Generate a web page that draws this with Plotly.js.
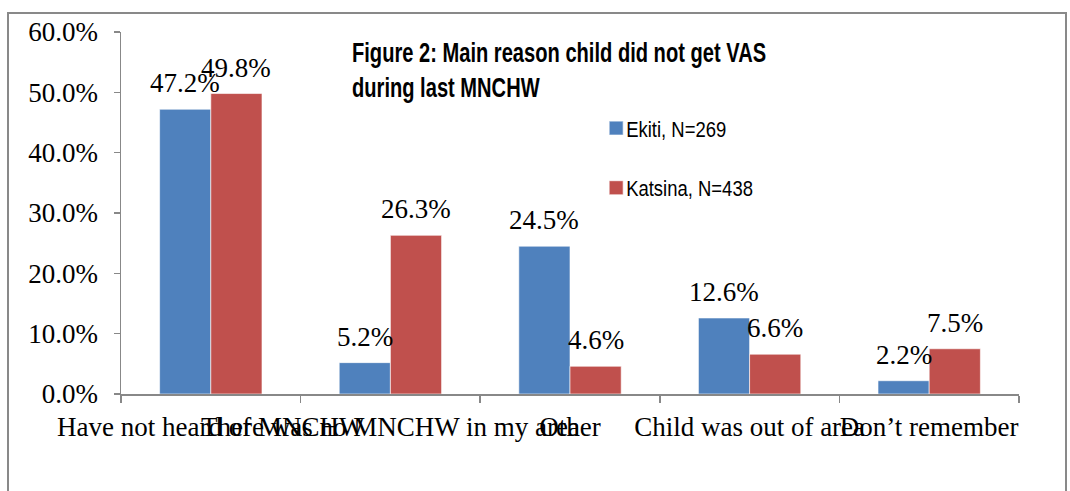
<!DOCTYPE html>
<html>
<head>
<meta charset="utf-8">
<script src="https://cdn.plot.ly/plotly-3.0.1.min.js"></script>
<style>html,body{margin:0;padding:0;background:#fff;}#chart{width:1070px;height:491px;}</style>
</head>
<body>
<div id="chart"></div>
<script>
const categories = ["Have not heard of MNCHW", "There was no MNCHW in my area", "Other", "Child was out of area", "Don\u2019t remember"];
const seriesNames = ["Ekiti, N=269", "Katsina, N=438"];
const ekiti = [47.2, 5.2, 24.5, 12.6, 2.2];
const katsina = [49.8, 26.3, 4.6, 6.6, 7.5];
const yTicks = [0, 10, 20, 30, 40, 50, 60];
const chartTitle = "Figure 2: Main reason child did not get VAS<br>during last MNCHW";

const colors = ["#4F81BD", "#C0504D"];
const serif = "'Liberation Serif', 'Times New Roman', serif";
const sans = "'Liberation Sans Narrow', 'Liberation Sans', Arial, sans-serif";

const series = [ekiti, katsina];
const traces = series.map((vals, i) => ({
  type: "bar",
  name: seriesNames[i],
  x: categories,
  y: vals,
  legendgroup: "g" + i,
  marker: {color: colors[i], line: {color: "rgba(255,255,255,0.6)", width: 1}},
  hoverinfo: "skip"
}));

const annotations = [];
series.forEach((vals, i) => {
  vals.forEach((v, j) => {
    annotations.push({
      x: categories[j], y: v, xref: "x", yref: "y",
      text: v.toFixed(1) + "%",
      showarrow: false, yanchor: "bottom", xanchor: "center",
      xshift: i === 0 ? -25.6 : 25.6, yshift: 9,
      font: {family: serif, size: 27, color: "#000"}
    });
  });
});

const layout = {
  width: 1070, height: 491,
  margin: {l: 121, r: 51, t: 32, b: 97},
  paper_bgcolor: "#fff", plot_bgcolor: "#fff",
  barmode: "group", bargap: 0.43, bargroupgap: 0,
  showlegend: true,
  title: {
    text: chartTitle,
    x: 352 / 1070, xref: "container", xanchor: "left",
    y: 1 - 62 / 491, yref: "container", yanchor: "top",
    font: {family: sans, size: 27, color: "#000", weight: "bold"}
  },
  legend: {
    x: 0.518, y: 0.792, xanchor: "left", yanchor: "top",
    bgcolor: "rgba(0,0,0,0)",
    font: {family: sans, size: 22, color: "#000"},
    tracegroupgap: 28, traceorder: "grouped"
  },
  xaxis: {
    type: "category",
    showline: true, linecolor: "#888", linewidth: 1.5,
    ticks: "outside", tickson: "boundaries", ticklen: 7, tickcolor: "#888", tickwidth: 1.5,
    tickangle: 0, showgrid: false, zeroline: false, ticklabelstandoff: 8,
    tickfont: {family: serif, size: 27, color: "#000"}
  },
  yaxis: {
    range: [0, 60], tickvals: yTicks, ticktext: yTicks.map(t => t.toFixed(1) + "%"),
    showline: true, linecolor: "#888", linewidth: 1.5,
    ticks: "outside", ticklen: 6, tickcolor: "#888", tickwidth: 1.5,
    showgrid: false, zeroline: false, ticklabelstandoff: 10,
    tickfont: {family: serif, size: 27, color: "#000"}
  },
  annotations: annotations,
  shapes: [{
    type: "rect", xref: "paper", yref: "paper",
    x0: (8 - 121) / 898, x1: (1066 - 121) / 898,
    y0: (394 - 500) / 362, y1: (394 - 13) / 362,
    line: {color: "#898989", width: 2}, fillcolor: "rgba(0,0,0,0)", layer: "below"
  }]
};

function condense(sel, s) {
  document.querySelectorAll(sel).forEach(t => {
    const x0 = parseFloat(t.getAttribute("x")) || 0;
    const prev = t.getAttribute("transform") || "";
    t.setAttribute("transform", prev + " translate(" + x0 + ",0) scale(" + s + ",1) translate(" + (-x0) + ",0)");
  });
}

Plotly.newPlot("chart", traces, layout, {staticPlot: true, displayModeBar: false}).then(() => {
  condense("#chart .gtitle", 0.745);
  condense("#chart .legendtext", 0.84);
  document.querySelectorAll("#chart .legendpoints").forEach(g => {
    const prev = g.getAttribute("transform") || "";
    g.setAttribute("transform", "translate(10,0) " + prev);
  });
  document.querySelectorAll("#chart .legendpoints path").forEach(p => {
    const prev = p.getAttribute("transform") || "";
    p.setAttribute("transform", prev + " scale(1.17)");
  });
});
</script>
</body>
</html>
